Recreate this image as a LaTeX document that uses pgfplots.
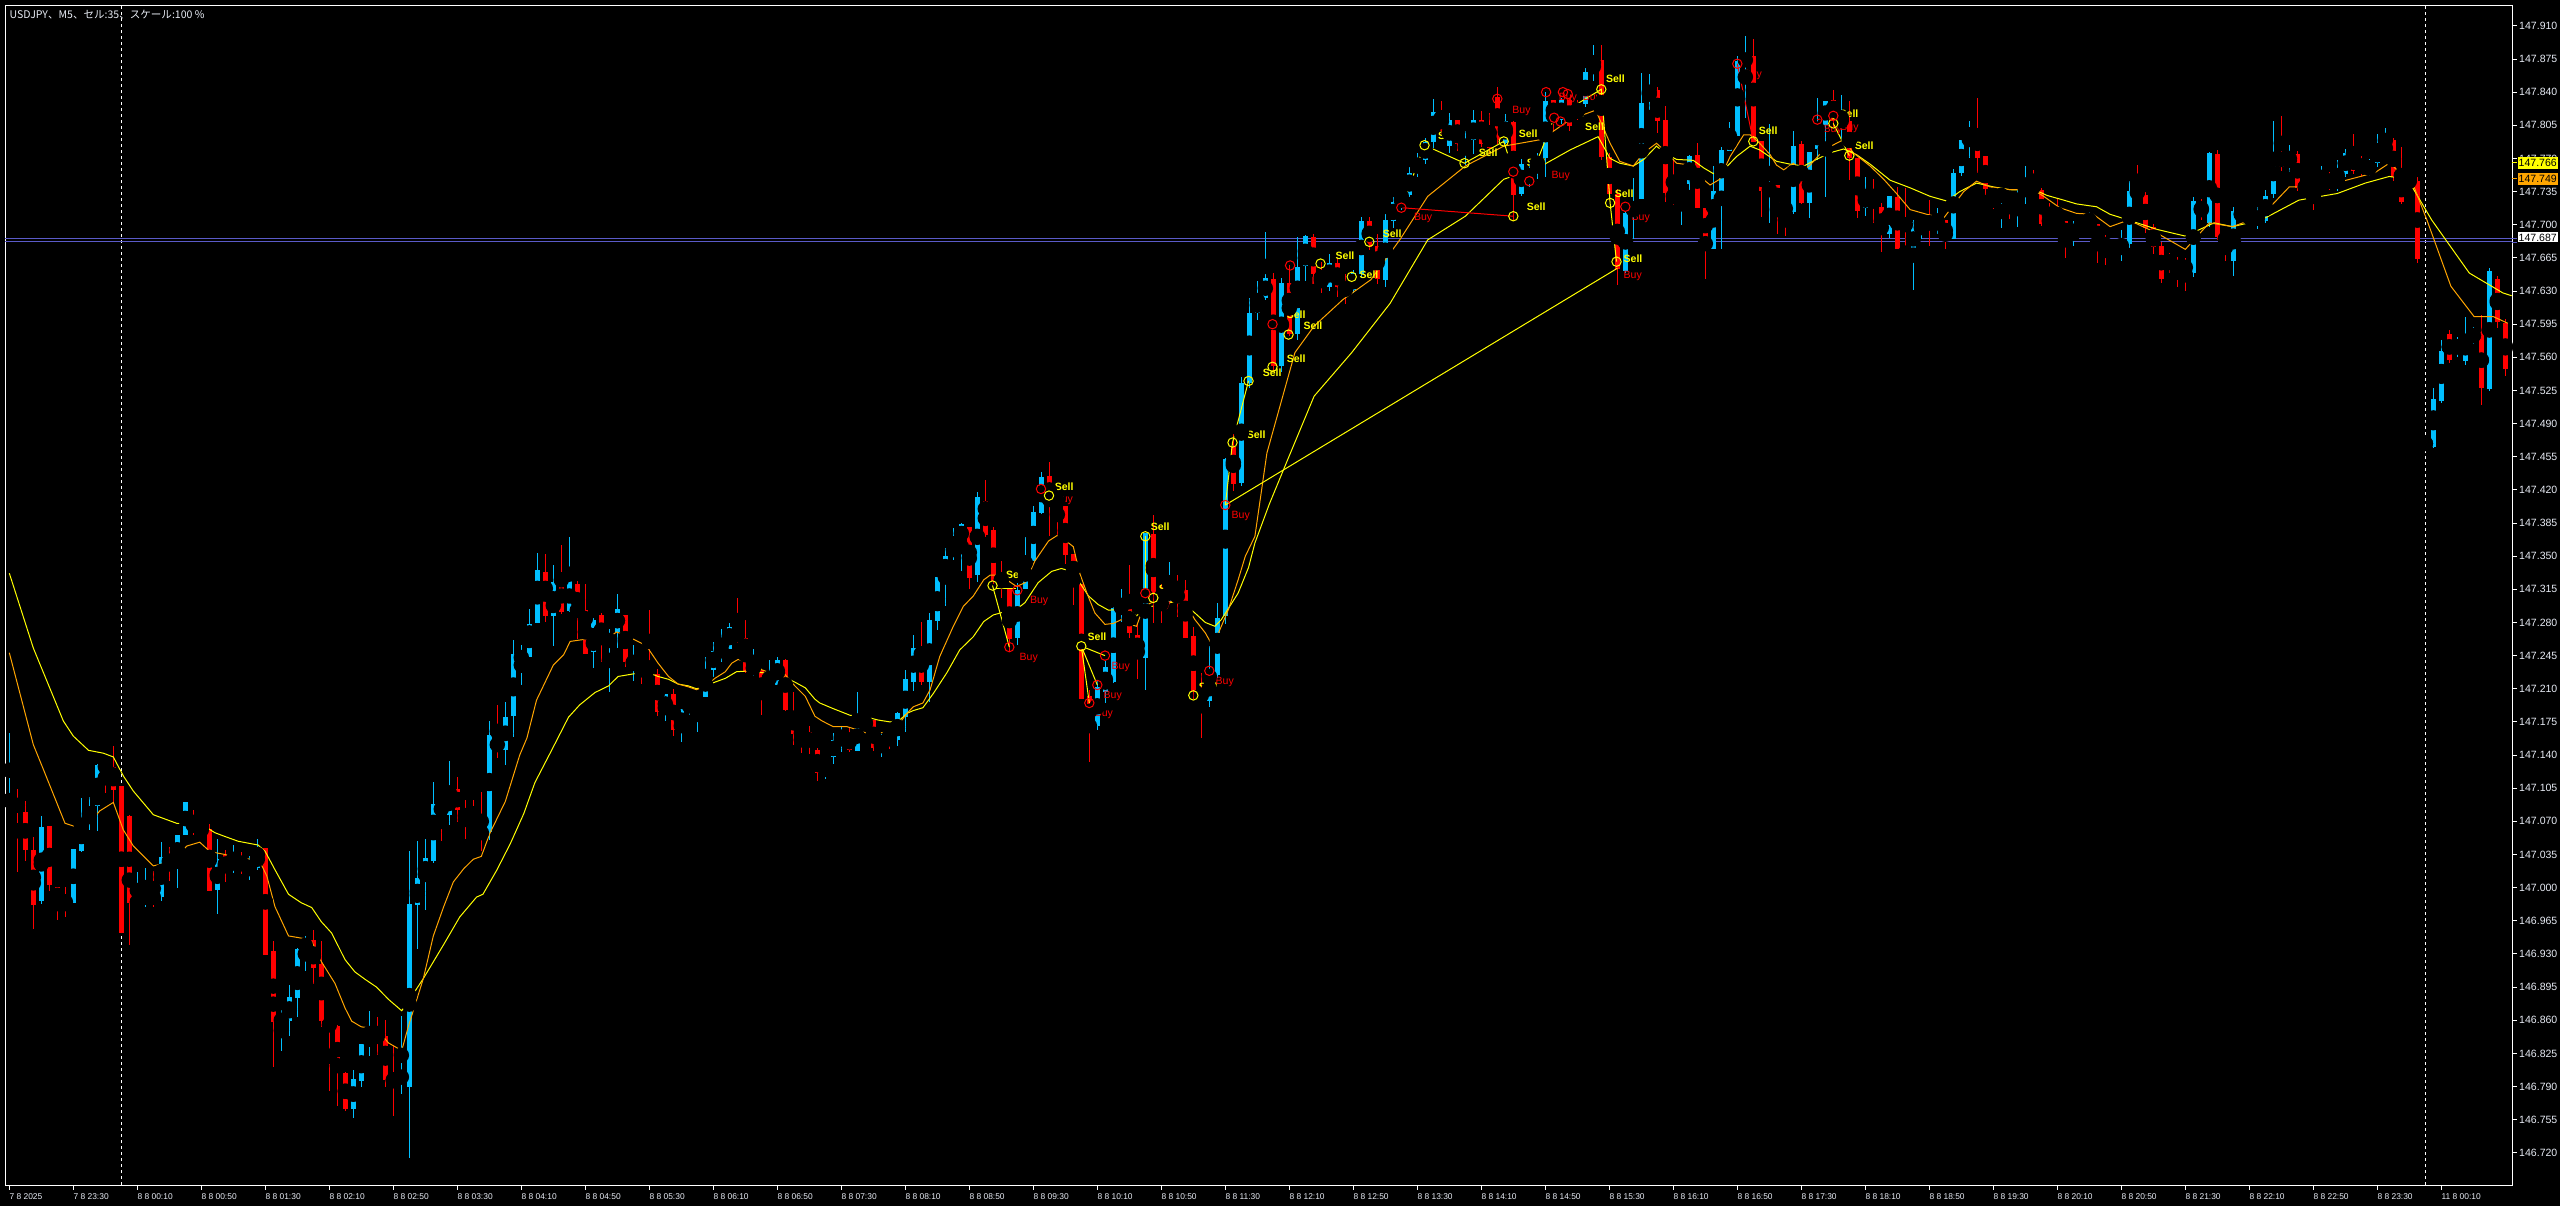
\documentclass[border=0pt]{standalone}
\usepackage{pgfplots}
\pgfplotsset{compat=1.18}
\usepackage{pgfplotstable}
\usepackage{fontspec}
\setmainfont{Liberation Sans}
\newfontfamily\cjk{Noto Sans CJK JP}
\definecolor{bull}{RGB}{0,191,255}
\definecolor{bear}{RGB}{255,0,0}
\definecolor{maslow}{RGB}{255,255,0}
\definecolor{mafast}{RGB}{255,165,0}
\definecolor{lbl}{RGB}{232,236,245}
\definecolor{hline}{RGB}{90,90,200}
\newcommand\yfont{\fontsize{3}{3.6}\selectfont}
\newcommand\xfont{\fontsize{2.4}{2.9}\selectfont}
\newcommand\sigfont{\fontsize{3}{3.6}\selectfont}

% USDJPY M5 candles, i = bar number (0 = 7 Aug 22:50)
\pgfplotstableread{
i o h l c
0 147.091 147.163 147.085 147.094
1 147.095 147.105 147.017 147.080
2 147.080 147.092 147.029 147.040
3 147.040 147.054 146.957 146.982
4 146.985 147.077 146.984 147.064
5 147.065 147.065 146.998 147.003
6 147.002 147.002 146.967 146.985
7 146.986 147.002 146.970 146.981
8 146.985 147.042 146.985 147.042
9 147.040 147.095 147.038 147.070
10 147.070 147.096 147.061 147.082
11 147.087 147.131 147.060 147.131
12 147.132 147.133 147.101 147.126
13 147.127 147.150 147.089 147.103
14 147.109 147.109 146.954 146.954
15 147.077 147.077 146.939 146.985
16 146.985 147.018 146.979 146.986
17 146.985 147.021 146.980 146.994
18 146.994 147.019 146.981 146.987
19 146.990 147.048 146.986 147.032
20 147.032 147.043 147.008 147.025
21 147.025 147.056 147.000 147.056
22 147.057 147.092 147.057 147.091
23 147.072 147.082 147.056 147.062
24 147.061 147.068 147.061 147.063
25 147.063 147.068 146.997 146.997
26 146.998 147.053 146.974 147.030
27 147.034 147.041 147.007 147.015
28 147.024 147.047 147.017 147.030
29 147.029 147.038 147.015 147.020
30 147.019 147.034 147.009 147.022
31 147.022 147.052 147.019 147.040
32 147.042 147.042 146.929 146.929
33 146.935 146.943 146.810 146.860
34 146.859 146.872 146.829 146.861
35 146.860 146.898 146.844 146.885
36 146.884 146.936 146.863 146.936
37 146.934 146.949 146.912 146.946
38 146.946 146.956 146.899 146.916
39 146.919 146.944 146.853 146.859
40 146.858 146.859 146.785 146.855
41 146.855 146.856 146.770 146.806
42 146.805 146.806 146.765 146.767
43 146.766 146.808 146.758 146.798
44 146.796 146.835 146.791 146.835
45 146.834 146.871 146.823 146.847
46 146.848 146.864 146.824 146.844
47 146.845 146.860 146.790 146.798
48 146.799 146.834 146.760 146.796
49 146.798 146.865 146.783 146.804
50 146.789 147.040 146.716 146.983
51 146.982 147.050 146.936 147.010
52 147.010 147.052 146.977 147.032
53 147.029 147.112 147.027 147.089
54 147.088 147.092 147.051 147.079
55 147.077 147.134 147.066 147.102
56 147.105 147.118 147.070 147.082
57 147.083 147.094 147.052 147.072
58 147.075 147.093 147.063 147.066
59 147.062 147.102 147.040 147.057
60 147.059 147.176 147.050 147.161
61 147.158 147.193 147.137 147.146
62 147.146 147.198 147.131 147.181
63 147.182 147.263 147.161 147.247
64 147.242 147.258 147.215 147.246
65 147.245 147.294 147.244 147.280
66 147.279 147.353 147.279 147.335
67 147.334 147.352 147.280 147.288
68 147.288 147.341 147.255 147.324
69 147.325 147.363 147.290 147.292
70 147.293 147.372 147.293 147.325
71 147.322 147.325 147.264 147.288
72 147.294 147.321 147.248 147.248
73 147.250 147.285 147.232 147.284
74 147.288 147.290 147.239 147.256
75 147.257 147.274 147.207 147.268
76 147.270 147.312 147.255 147.295
77 147.288 147.288 147.234 147.238
78 147.237 147.257 147.219 147.242
79 147.244 147.246 147.217 147.237
80 147.239 147.293 147.226 147.226
81 147.227 147.232 147.183 147.187
82 147.184 147.205 147.176 147.205
83 147.204 147.211 147.161 147.166
84 147.167 147.190 147.155 147.190
85 147.193 147.203 147.184 147.196
86 147.195 147.203 147.165 147.197
87 147.203 147.245 147.203 147.230
88 147.231 147.260 147.223 147.251
89 147.250 147.275 147.240 147.253
90 147.254 147.279 147.253 147.277
91 147.276 147.306 147.259 147.261
92 147.265 147.283 147.227 147.229
93 147.229 147.253 147.224 147.237
94 147.231 147.231 147.183 147.199
95 147.203 147.241 147.203 147.216
96 147.215 147.245 147.215 147.242
97 147.241 147.241 147.187 147.189
98 147.187 147.207 147.151 147.164
99 147.165 147.170 147.142 147.162
100 147.164 147.171 147.142 147.148
101 147.146 147.148 147.113 147.122
102 147.121 147.136 147.115 147.136
103 147.138 147.164 147.132 147.156
104 147.156 147.171 147.144 147.164
105 147.164 147.170 147.144 147.146
106 147.146 147.207 147.146 147.177
107 147.177 147.177 147.170 147.174
108 147.177 147.177 147.145 147.147
109 147.146 147.163 147.138 147.162
110 147.166 147.168 147.147 147.157
111 147.155 147.186 147.150 147.184
112 147.181 147.230 147.164 147.221
113 147.218 147.267 147.208 147.254
114 147.253 147.282 147.215 147.218
115 147.218 147.291 147.196 147.283
116 147.283 147.330 147.274 147.330
117 147.328 147.360 147.299 147.350
118 147.350 147.380 147.347 147.365
119 147.365 147.386 147.335 147.384
120 147.382 147.382 147.317 147.329
121 147.330 147.418 147.323 147.412
122 147.410 147.430 147.370 147.374
123 147.379 147.382 147.322 147.325
124 147.328 147.345 147.306 147.322
125 147.315 147.315 147.251 147.262
126 147.263 147.322 147.256 147.314
127 147.317 147.371 147.317 147.348
128 147.346 147.404 147.346 147.398
129 147.397 147.439 147.395 147.435
130 147.436 147.451 147.373 147.406
131 147.413 147.417 147.373 147.404
132 147.404 147.404 147.343 147.353
133 147.353 147.353 147.299 147.323
134 147.322 147.322 147.200 147.200
135 147.203 147.209 147.133 147.171
136 147.171 147.219 147.167 147.212
137 147.208 147.239 147.195 147.234
138 147.218 147.297 147.217 147.296
139 147.295 147.316 147.281 147.299
140 147.300 147.342 147.265 147.270
141 147.268 147.278 147.220 147.246
142 147.243 147.375 147.209 147.375
143 147.374 147.394 147.280 147.308
144 147.313 147.322 147.280 147.301
145 147.302 147.345 147.301 147.322
146 147.321 147.332 147.287 147.311
147 147.315 147.325 147.265 147.265
148 147.267 147.276 147.200 147.209
149 147.208 147.228 147.159 147.200
150 147.199 147.255 147.191 147.224
151 147.225 147.302 147.223 147.285
152 147.287 147.455 147.280 147.453
153 147.466 147.480 147.420 147.427
154 147.428 147.540 147.425 147.533
155 147.533 147.624 147.529 147.607
156 147.607 147.642 147.600 147.624
157 147.624 147.693 147.621 147.645
158 147.644 147.650 147.545 147.552
159 147.552 147.645 147.545 147.640
160 147.640 147.658 147.582 147.586
161 147.586 147.688 147.579 147.656
162 147.656 147.691 147.642 147.688
163 147.688 147.690 147.638 147.649
164 147.649 147.661 147.628 147.635
165 147.635 147.670 147.631 147.660
166 147.660 147.665 147.624 147.635
167 147.635 147.649 147.617 147.631
168 147.631 147.652 147.628 147.649
169 147.649 147.709 147.645 147.705
170 147.705 147.709 147.674 147.677
171 147.677 147.691 147.638 147.642
172 147.642 147.712 147.635 147.705
173 147.705 147.730 147.698 147.726
174 147.726 147.737 147.716 147.733
175 147.733 147.762 147.730 147.756
176 147.756 147.776 147.751 147.769
177 147.769 147.793 147.765 147.788
178 147.788 147.834 147.783 147.820
179 147.820 147.832 147.797 147.800
180 147.783 147.818 147.776 147.811
181 147.811 147.811 147.779 147.786
182 147.776 147.800 147.765 147.790
183 147.790 147.823 147.776 147.811
184 147.811 147.821 147.783 147.786
185 147.800 147.818 147.776 147.783
186 147.835 147.846 147.786 147.790
187 147.788 147.818 147.786 147.811
188 147.811 147.811 147.705 147.733
189 147.733 147.769 147.730 147.765
190 147.744 147.765 147.740 147.758
191 147.758 147.776 147.748 147.772
192 147.772 147.841 147.751 147.832
193 147.832 147.832 147.800 147.811
194 147.811 147.835 147.807 147.832
195 147.832 147.835 147.800 147.804
196 147.828 147.832 147.811 147.814
197 147.828 147.867 147.825 147.862
198 147.860 147.891 147.853 147.874
199 147.874 147.890 147.769 147.772
200 147.772 147.776 147.726 147.733
201 147.733 147.739 147.637 147.653
202 147.653 147.716 147.650 147.714
203 147.712 147.751 147.686 147.722
204 147.729 147.861 147.729 147.830
205 147.834 147.859 147.821 147.844
206 147.843 147.846 147.797 147.810
207 147.812 147.827 147.726 147.735
208 147.733 147.769 147.721 147.727
209 147.730 147.745 147.700 147.745
210 147.745 147.774 147.737 147.774
211 147.775 147.788 147.719 147.719
212 147.719 147.719 147.644 147.681
213 147.676 147.762 147.676 147.737
214 147.735 147.783 147.675 147.779
215 147.779 147.809 147.779 147.797
216 147.795 147.880 147.795 147.874
217 147.874 147.901 147.814 147.876
218 147.879 147.897 147.788 147.788
219 147.788 147.788 147.709 147.736
220 147.734 147.807 147.702 147.742
221 147.742 147.742 147.691 147.720
222 147.723 147.723 147.690 147.712
223 147.713 147.800 147.713 147.783
224 147.786 147.790 147.723 147.723
225 147.723 147.777 147.707 147.777
226 147.781 147.834 147.769 147.806
227 147.806 147.831 147.730 147.831
228 147.833 147.843 147.804 147.811
229 147.809 147.839 147.790 147.814
230 147.811 147.832 147.748 147.772
231 147.772 147.772 147.708 147.716
232 147.719 147.751 147.710 147.735
233 147.736 147.748 147.702 147.724
234 147.719 147.723 147.672 147.689
235 147.691 147.731 147.688 147.731
236 147.731 147.740 147.675 147.676
237 147.675 147.740 147.663 147.666
238 147.668 147.705 147.632 147.703
239 147.701 147.711 147.686 147.703
240 147.703 147.728 147.679 147.701
241 147.699 147.718 147.690 147.705
242 147.706 147.706 147.675 147.685
243 147.686 147.760 147.686 147.756
244 147.756 147.791 147.753 147.791
245 147.791 147.811 147.771 147.801
246 147.801 147.834 147.755 147.771
247 147.773 147.773 147.732 147.738
248 147.737 147.737 147.718 147.725
249 147.730 147.733 147.698 147.733
250 147.733 147.733 147.707 147.720
251 147.723 147.737 147.698 147.732
252 147.730 147.763 147.723 147.746
253 147.745 147.759 147.735 147.737
254 147.737 147.740 147.700 147.701
255 147.705 147.723 147.700 147.703
256 147.705 147.728 147.695 147.700
257 147.704 147.704 147.665 147.685
258 147.687 147.705 147.679 147.700
259 147.699 147.707 147.695 147.702
260 147.699 147.715 147.698 147.704
261 147.702 147.702 147.662 147.683
262 147.685 147.689 147.657 147.676
263 147.677 147.681 147.670 147.674
264 147.674 147.695 147.663 147.681
265 147.681 147.748 147.677 147.737
266 147.737 147.765 147.730 147.733
267 147.732 147.735 147.691 147.698
268 147.698 147.702 147.670 147.677
269 147.677 147.681 147.638 147.642
270 147.667 147.670 147.649 147.656
271 147.663 147.667 147.635 147.649
272 147.661 147.665 147.630 147.649
273 147.649 147.730 147.645 147.725
274 147.725 147.728 147.705 147.711
275 147.702 147.777 147.698 147.776
276 147.776 147.779 147.684 147.688
277 147.688 147.691 147.663 147.684
278 147.663 147.719 147.646 147.716
279 147.709 147.719 147.705 147.714
280 147.705 147.716 147.702 147.712
281 147.702 147.719 147.696 147.714
282 147.705 147.737 147.702 147.732
283 147.732 147.811 147.730 147.776
284 147.777 147.816 147.758 147.762
285 147.762 147.786 147.758 147.776
286 147.776 147.779 147.737 147.740
287 147.744 147.748 147.733 147.737
288 147.740 147.744 147.716 147.737
289 147.740 147.762 147.737 147.753
290 147.753 147.756 147.737 147.740
291 147.740 147.769 147.737 147.755
292 147.755 147.781 147.751 147.777
293 147.776 147.797 147.755 147.758
294 147.769 147.772 147.751 147.755
295 147.755 147.769 147.751 147.765
296 147.765 147.797 147.762 147.783
297 147.779 147.802 147.776 147.786
298 147.791 147.793 147.748 147.751
299 147.751 147.784 147.723 147.726
300 147.751 147.755 147.740 147.748
301 147.748 147.751 147.661 147.665
302 147.469 147.471 147.468 147.470
303 147.466 147.528 147.464 147.517
304 147.515 147.579 147.513 147.568
305 147.586 147.589 147.554 147.558
306 147.565 147.582 147.561 147.579
307 147.556 147.603 147.552 147.584
308 147.579 147.593 147.575 147.587
309 147.587 147.605 147.510 147.528
310 147.528 147.655 147.525 147.652
311 147.644 147.647 147.592 147.598
312 147.598 147.600 147.540 147.549
}\candles

\pgfplotsset{
  candle/.style 2 args={only marks, mark=none, forget plot,
    error bars/y dir=both, error bars/y explicit, error bars/error mark=none,
    error bars/error bar style={line width=#2, color=#1}},
  ring/.style={only marks, mark=o, mark size=0.047cm, forget plot, mark options={line width=0.01cm, draw=#1}},
}
\tikzset{
  sell/.style={anchor=west, inner sep=0pt, text=maslow, font=\sigfont\bfseries},
  buy/.style={anchor=west, inner sep=0pt, text=bear, font=\sigfont},
}

\begin{document}
\begin{tikzpicture}
\fill[black] (0,0) rectangle (25.6cm,12.06cm);
\begin{axis}[
  at={(0.05cm,0.21cm)}, anchor=south west,
  scale only axis, width=25.07cm, height=11.79cm,
  xmin=-0.54, xmax=312.84, ymin=146.686, ymax=147.931,
  axis line style={draw=white, line width=0.01cm},
  tick style={draw=white, line width=0.01cm},
  tick align=outside, major tick length=0.045cm,
  xtick pos=left, ytick pos=right, yticklabel pos=right,
  xtick={0,8,...,304},
  xticklabels={7 8 2025,7 8 23:30,8 8 00:10,8 8 00:50,8 8 01:30,8 8 02:10,8 8 02:50,8 8 03:30,8 8 04:10,8 8 04:50,8 8 05:30,8 8 06:10,8 8 06:50,8 8 07:30,8 8 08:10,8 8 08:50,8 8 09:30,8 8 10:10,8 8 10:50,8 8 11:30,8 8 12:10,8 8 12:50,8 8 13:30,8 8 14:10,8 8 14:50,8 8 15:30,8 8 16:10,8 8 16:50,8 8 17:30,8 8 18:10,8 8 18:50,8 8 19:30,8 8 20:10,8 8 20:50,8 8 21:30,8 8 22:10,8 8 22:50,8 8 23:30,11 8 00:10},
  xticklabel style={font=\xfont, text=lbl, anchor=north west, inner sep=0pt, xshift=-0.005cm, yshift=-0.03cm},
  ytick={146.720,146.755,146.790,146.825,146.860,146.895,146.930,146.965,147.000,147.035,147.070,147.105,147.140,147.175,147.210,147.245,147.280,147.315,147.350,147.385,147.420,147.455,147.490,147.525,147.560,147.595,147.630,147.665,147.700,147.735,147.770,147.805,147.840,147.875,147.910},
  yticklabels={146.720,146.755,146.790,146.825,146.860,146.895,146.930,146.965,147.000,147.035,147.070,147.105,147.140,147.175,147.210,147.245,147.280,147.315,147.350,147.385,147.420,147.455,147.490,147.525,147.560,147.595,147.630,147.665,147.700,147.735,147.770,147.805,147.840,147.875,147.910},
  yticklabel style={font=\yfont, text=lbl, anchor=west, inner sep=0pt, xshift=0.02cm},
]
% day separators
\draw[white, line width=0.008cm, dash pattern=on 0.03cm off 0.03cm] (14,146.686) -- (14,147.931);
\draw[white, line width=0.008cm, dash pattern=on 0.03cm off 0.03cm] (302,146.686) -- (302,147.931);
% horizontal levels
\addplot[hline, line width=0.01cm, forget plot] coordinates {(-1,147.686) (320,147.686)};
\addplot[hline, line width=0.01cm, forget plot] coordinates {(-1,147.682) (320,147.682)};

% wicks (bars of the other colour are sent off the axis, left of xmin)
\addplot[candle={bull}{0.01cm}] table[x expr={\thisrow{c}>=\thisrow{o} ? \thisrow{i} : -50}, y expr={(\thisrow{h}+\thisrow{l})/2}, y error expr={(\thisrow{h}-\thisrow{l})/2}] {\candles};
\addplot[candle={bear}{0.01cm}] table[x expr={\thisrow{c}<\thisrow{o} ? \thisrow{i} : -50}, y expr={(\thisrow{h}+\thisrow{l})/2}, y error expr={(\thisrow{h}-\thisrow{l})/2}] {\candles};
% bodies
\addplot[candle={bull}{0.05cm}] table[x expr={\thisrow{c}>=\thisrow{o} ? \thisrow{i} : -50}, y expr={(\thisrow{o}+\thisrow{c})/2}, y error expr={max(abs(\thisrow{c}-\thisrow{o})/2,0.0005)}] {\candles};
\addplot[candle={bear}{0.05cm}] table[x expr={\thisrow{c}<\thisrow{o} ? \thisrow{i} : -50}, y expr={(\thisrow{o}+\thisrow{c})/2}, y error expr={max(abs(\thisrow{c}-\thisrow{o})/2,0.0005)}] {\candles};

% slow MA
\addplot[maslow, line width=0.01cm] coordinates {
(0,147.332) (3,147.253) (6.75,147.176) (8,147.160) (9.9,147.145) (11.75,147.142) (13,147.138) (14.25,147.118) (15.5,147.102) (18,147.077) (20.9,147.068) (23.8,147.068) (25.7,147.058) (26.96,147.054) (28.6,147.049) (31.1,147.045) (32,147.038) (33.2,147.019) (34.9,146.993) (36.5,146.984) (37.8,146.979) (39,146.964) (40.3,146.952) (41.96,146.924) (43.2,146.911) (44.5,146.903) (45.9,146.895) (47.4,146.882) (49.05,146.870) (50.2,146.884) (51.75,146.904) (54.3,146.940) (56.3,146.969) (58.4,146.990) (59.2,146.993) (60.9,147.018) (62.6,147.046) (64.3,147.078) (65.7,147.111) (67.6,147.142) (69.9,147.180) (71.3,147.193) (73.2,147.206) (74.9,147.213) (76.1,147.223) (78.2,147.226) (79.9,147.227) (81.1,147.223) (82.4,147.220) (83.6,147.215) (84.9,147.213) (85.9,147.210) (87,147.213) (88.2,147.217) (89.5,147.221) (90.9,147.228) (92.8,147.229) (94.05,147.227) (96.1,147.226) (96.96,147.222) (98.2,147.217) (99.5,147.211) (100.7,147.199) (101.3,147.195) (103,147.189) (105.1,147.182) (107.2,147.180) (108.6,147.177) (110.1,147.175) (111.3,147.177) (112.2,147.184) (113,147.187) (114.2,147.190) (115.5,147.205) (117.2,147.227) (118.8,147.251) (120.5,147.265) (121.8,147.281) (123,147.288) (124.3,147.291) (125.3,147.290) (126.96,147.301)
(128.6,147.322) (130.3,147.334) (131.5,147.337) (132.8,147.334) (133.8,147.322) (134.9,147.308) (136.1,147.299) (137.4,147.293) (139,147.294) (140.3,147.291) (140.9,147.287) (141.8,147.294) (142.8,147.297) (144.5,147.300) (145.7,147.302) (146.96,147.299) (148.2,147.290) (149.5,147.280) (150.7,147.276) (151.5,147.283) (152.4,147.295) (153.6,147.311) (154.9,147.338) (155.7,147.364) (157.5,147.405) (159.6,147.448) (163.1,147.519) (167.8,147.565) (172.6,147.617) (177.3,147.684) (182,147.709) (186.8,147.748) (191.5,147.762) (195.1,147.779) (198.6,147.793)
(200.1,147.770) (201.3,147.765) (203,147.762) (204.3,147.769) (205.9,147.783) (207.2,147.774) (208.4,147.769) (210.5,147.768) (211.8,147.760) (213,147.754) (214.3,147.758) (215.9,147.772) (217.6,147.783) (218.8,147.779) (220.9,147.767) (222.6,147.764) (224.3,147.762) (225.9,147.769) (227.6,147.776) (229.3,147.780) (230.9,147.774) (232.6,147.764) (235.1,147.747) (237.6,147.739) (240.1,147.730) (242.2,147.725) (243.8,147.735) (245.9,147.744) (248,147.740) (250.1,147.737) (253.4,147.736) (254.7,147.731) (256.8,147.726) (258.4,147.722) (260.9,147.719) (262.6,147.711)
(264.9,147.705) (268.5,147.695) (272,147.688) (275.6,147.702) (277.9,147.698) (281.5,147.705) (286.2,147.726) (291,147.733) (294.5,147.744) (297.5,147.751) (299.8,147.748) (302.8,147.705) (307.5,147.649) (311.7,147.628) (312.8,147.625)
};
% fast MA
\addplot[mafast, line width=0.01cm] coordinates {
(0,147.248) (3,147.151) (4.25,147.125) (6.96,147.068) (8.4,147.064) (9.9,147.067) (11.3,147.081) (13,147.090) (14.25,147.061) (15.5,147.044) (18,147.023) (20.1,147.027) (22.2,147.044) (23.8,147.048) (25.1,147.038) (26.96,147.035) (28.6,147.031) (30.7,147.030) (31.3,147.028) (32.2,147.012) (33.2,146.980) (34.9,146.949) (37,146.946) (37.8,146.943) (39,146.922) (40.7,146.899) (41.96,146.873) (42.8,146.859) (44,146.853) (45.9,146.851) (47.4,146.836) (49.05,146.828) (49.9,146.854) (51.75,146.904) (53,146.949) (54.3,146.980) (55.5,147.006) (56.8,147.020) (58,147.030) (59,147.033) (60.1,147.058) (62,147.091) (63.8,147.140) (64.7,147.158) (65.9,147.198) (68,147.235) (69.3,147.246) (70.1,147.260) (71.75,147.262) (73.4,147.266) (75.1,147.265) (75.9,147.270) (77.4,147.265) (79.05,147.258) (79.9,147.252) (81.1,147.237) (82.4,147.223) (83.6,147.215) (84.9,147.212) (85.9,147.209) (87,147.213) (88.2,147.221) (89.5,147.228) (90.3,147.237) (91.1,147.241) (92.2,147.238) (93.2,147.237) (94.05,147.230) (95.1,147.227) (95.9,147.230) (96.96,147.225) (98.2,147.213) (99.5,147.202) (100.7,147.181) (101.6,147.176) (103,147.170) (104.7,147.170) (105.9,147.167) (107.2,147.163) (108.6,147.163) (110.1,147.165) (111.3,147.174) (112.2,147.184) (113,147.191) (114.2,147.195) (115.1,147.209) (116.3,147.244) (118,147.276) (119.25,147.297) (120.5,147.308) (121.8,147.325) (122.6,147.330) (123.4,147.330) (124.7,147.325) (125.9,147.318) (126.97,147.322) (128.2,147.345)
(129.9,147.366) (131,147.372) (131.96,147.367) (133,147.360) (133.8,147.332) (134.7,147.311) (135.7,147.290) (136.96,147.278) (138,147.279) (139,147.283) (140.1,147.278) (140.9,147.276) (141.8,147.297) (142.8,147.301) (144,147.301) (145.3,147.302) (146.1,147.302) (147.2,147.297) (148.2,147.283) (149.5,147.269) (150.1,147.260) (150.9,147.264) (151.5,147.276) (152.4,147.294) (153.6,147.325) (154.5,147.350) (155.7,147.371) (157.2,147.459) (160.7,147.565) (163.1,147.593) (166.7,147.621) (170.2,147.642) (173.8,147.684) (177.3,147.730) (182,147.762) (186.8,147.783) (191.5,147.790) (195.1,147.811) (198.3,147.821)
(200.1,147.786) (201.3,147.767) (203,147.762) (204.3,147.776) (205.9,147.786) (207.2,147.776) (208.4,147.765) (210.1,147.763) (211.3,147.751) (212.6,147.742) (213.8,147.748) (215.1,147.772) (216.8,147.795) (217.6,147.795) (218.8,147.786) (220.1,147.774) (220.9,147.763) (221.8,147.758) (223,147.765) (224,147.756) (225.1,147.763) (226.8,147.779) (229.3,147.790) (230.5,147.776) (232.6,147.762) (234.3,147.748) (235.9,147.733) (237.6,147.716) (239.7,147.711) (241.8,147.707) (242.6,147.716) (244.3,147.735) (245.9,147.746) (247.6,147.740) (250.1,147.737) (253,147.737) (254.3,147.730) (256.3,147.718) (258.4,147.712) (260.5,147.711) (262.6,147.698)
(264.9,147.705) (268.5,147.691) (272,147.674) (275,147.702) (277.9,147.698) (281.5,147.709) (285,147.740) (288.6,147.740) (292.1,147.747) (295.7,147.755) (297.5,147.765) (300.4,147.744) (302.2,147.705) (305.2,147.635) (308.1,147.603) (310.5,147.603) (312.3,147.596)
};

% signal lines
\addplot[maslow, line width=0.01cm, forget plot] coordinates {(152,147.404) (201,147.654)};
\addplot[maslow, line width=0.01cm, forget plot] coordinates {(122.9,147.319) (125,147.254)};
\addplot[maslow, line width=0.01cm, forget plot] coordinates {(123.3,147.316) (125.8,147.316)};
\addplot[maslow, line width=0.01cm, forget plot] coordinates {(135,147.195) (134,147.255) (136.96,147.245)};
\addplot[maslow, line width=0.01cm, forget plot] coordinates {(134,147.255) (136,147.214)};
\addplot[maslow, line width=0.01cm, forget plot] coordinates {(142,147.371) (142,147.311)};
\addplot[maslow, line width=0.01cm, forget plot] coordinates {(152,147.404) (152.9,147.470) (154.9,147.535)};
\addplot[maslow, line width=0.01cm, forget plot] coordinates {(174,147.718) (176.9,147.784) (181.9,147.765) (186.8,147.788) (188,147.756) (190,147.746) (193.1,147.813) (199,147.843) (200.1,147.723) (200.9,147.661)};
\addplot[maslow, line width=0.01cm, forget plot] coordinates {(228,147.807) (230,147.773)};
\addplot[bear, line width=0.01cm, forget plot] coordinates {(174,147.718) (188,147.709)};
\addplot[bear, line width=0.01cm, forget plot] coordinates {(216,147.870) (218,147.788)};
\addplot[bear, line width=0.01cm, forget plot] coordinates {(226,147.811) (228,147.815)};
% signal rings
\addplot[ring=maslow] coordinates {(122.9,147.319) (129.96,147.414) (134,147.255) (142,147.371) (143,147.306) (148,147.203) (152.9,147.470) (154.9,147.535) (157.9,147.550) (159.9,147.584) (163.9,147.659) (167.8,147.645) (170,147.682) (176.9,147.784) (181.9,147.765) (186.8,147.788) (188,147.709) (199,147.843) (200.1,147.723) (200.9,147.661) (218,147.788) (228,147.807) (230,147.773)};
\addplot[ring=bear] coordinates {(125,147.254) (126,147.314) (128.96,147.421) (136.96,147.245) (136,147.214) (135,147.195) (142,147.311) (150,147.229) (152,147.404) (157.9,147.595) (160.1,147.657) (174,147.718) (186,147.833) (188,147.756) (190,147.746) (192.1,147.840) (193.1,147.813) (193.9,147.809) (194.2,147.840) (194.8,147.838) (202,147.719) (216,147.870) (226,147.811) (228,147.815)};
% signal labels
\foreach \x/\y in {124.5/147.330, 130.6/147.423, 134.7/147.265, 142.6/147.381, 143.6/147.316, 148.6/147.212, 154.6/147.478, 156.6/147.544, 159.6/147.559, 159.6/147.605, 161.7/147.593, 165.7/147.667, 168.7/147.647, 171.6/147.691, 178.5/147.794, 183.6/147.776, 188.6/147.796, 189.6/147.766, 189.6/147.719, 194.4/147.817, 196.9/147.804, 199.5/147.854, 200.6/147.733, 201.7/147.664, 218.6/147.799, 228.7/147.817, 230.6/147.783}
  {\edef\tmp{\noexpand\node[sell] at (\x,\y) {Sell};}\tmp}
\foreach \x/\y in {126.2/147.243, 127.5/147.303, 130.6/147.409, 137.7/147.233, 136.7/147.202, 135.6/147.183, 142.8/147.299, 150.7/147.217, 152.7/147.393, 162.7/147.640, 175.5/147.707, 187.8/147.820, 192.7/147.752, 193.6/147.834, 196.6/147.834, 202.7/147.707, 201.7/147.646, 216.7/147.858, 226.7/147.800, 228.8/147.802}
  {\edef\tmp{\noexpand\node[buy] at (\x,\y) {Buy};}\tmp}
\end{axis}
% title
\node[anchor=base west, inner sep=0pt, text=lbl] at (0.09cm,11.87cm) {\cjk\fontsize{3}{3.6}\selectfont USDJPY、M5、セル:35、スケール:100 \%};
% level lines run on across the tick area to the price box
\draw[hline, line width=0.01cm] (25.12cm,9.677cm) -- (25.17cm,9.677cm);
\draw[hline, line width=0.01cm] (25.12cm,9.635cm) -- (25.17cm,9.635cm);
% price boxes on the right scale
\draw[maslow, line width=0.01cm] (25.12cm,10.43cm) -- (25.17cm,10.43cm);
\node[fill=maslow, text=black, inner sep=0pt, minimum width=0.4cm, minimum height=0.115cm, anchor=west] at (25.17cm,10.43cm) {\yfont 147.766};
\draw[mafast, line width=0.01cm] (25.12cm,10.27cm) -- (25.17cm,10.27cm);
\node[fill=mafast, text=black, inner sep=0pt, minimum width=0.4cm, minimum height=0.12cm, anchor=west] at (25.17cm,10.27cm) {\yfont 147.749};
\node[fill=white, text=black, inner sep=0pt, minimum width=0.4cm, minimum height=0.1cm, anchor=west] at (25.17cm,9.685cm) {\yfont 147.687};
\pgfresetboundingbox
\path[use as bounding box] (0,0) rectangle (25.6cm,12.06cm);
\end{tikzpicture}
\end{document}
